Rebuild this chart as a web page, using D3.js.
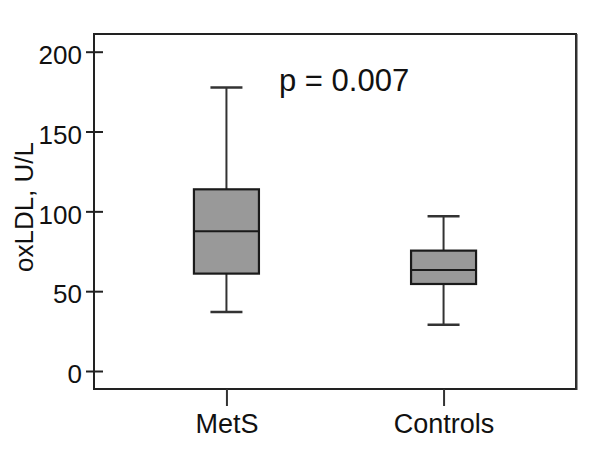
<!DOCTYPE html>
<html><head><meta charset="utf-8">
<script src="https://cdn.jsdelivr.net/npm/d3@7"></script>
<style>body{margin:0;background:#fff}svg{display:block}text{font-family:"Liberation Sans",Arial,sans-serif;fill:#111}</style>
</head><body><svg id="c" width="600" height="459"></svg>
<script>
const categories = ["MetS", "Controls"];
const whiskerLow = [37, 29];
const q1 = [61, 54.5];
const median = [87.5, 63.3];
const q3 = [113.8, 75.4];
const whiskerHigh = [177.5, 97];
const yTicks = [0, 50, 100, 150, 200];
const yLabel = "oxLDL, U/L";
const annotation = "p = 0.007";

const svg = d3.select("#c");
const L = 94, R = 576, T = 34, B = 389;
const y = d3.scaleLinear().domain([0, 200]).range([371, 51.7]);
const x = d3.scalePoint().domain(categories).range([L, R]).padding(0.61);
const boxW = 65, capW = 32;

// frame
svg.append("rect").attr("x", L).attr("y", T).attr("width", R - L).attr("height", B - T)
  .attr("fill", "none").attr("stroke", "#222").attr("stroke-width", 2);
svg.append("line").attr("x1", R + 0.5).attr("x2", R + 0.5).attr("y1", T).attr("y2", B + 1)
  .attr("stroke", "#333").attr("stroke-width", 2);

// y axis
const yAxis = svg.append("g").attr("transform", `translate(${L},0)`)
  .call(d3.axisLeft(y).tickValues(yTicks).tickSize(8).tickPadding(4));
yAxis.select(".domain").remove();
yAxis.selectAll(".tick line").attr("x1", 9).attr("x2", -8).attr("stroke", "#222").attr("stroke-width", 2);
yAxis.selectAll(".tick text").attr("font-size", 26).attr("dy", "0.45em").attr("fill", "#111")
  .style("font-family", "'Liberation Sans',Arial,sans-serif");

// x axis
const xAxis = svg.append("g").attr("transform", `translate(0,${B})`)
  .call(d3.axisBottom(x).tickSize(17).tickPadding(0));
xAxis.select(".domain").remove();
xAxis.selectAll(".tick line").attr("stroke", "#333").attr("stroke-width", 2);
xAxis.selectAll(".tick text").attr("font-size", 27).attr("dy", null).attr("y", 43.7).attr("fill", "#111")
  .style("font-family", "'Liberation Sans',Arial,sans-serif");

// y label
svg.append("text").attr("transform", "translate(33,207) rotate(-90)")
  .attr("text-anchor", "middle").attr("font-size", 26).text(yLabel);

// boxes
const data = categories.map((c, i) => ({c, lo: whiskerLow[i], q1: q1[i], med: median[i], q3: q3[i], hi: whiskerHigh[i]}));
const g = svg.selectAll("g.box").data(data).join("g").attr("class", "box");
g.append("line").attr("x1", d => x(d.c)).attr("x2", d => x(d.c)).attr("y1", d => y(d.hi)).attr("y2", d => y(d.q3))
  .attr("stroke", "#333").attr("stroke-width", 2);
g.append("line").attr("x1", d => x(d.c)).attr("x2", d => x(d.c)).attr("y1", d => y(d.q1)).attr("y2", d => y(d.lo))
  .attr("stroke", "#333").attr("stroke-width", 2);
g.append("line").attr("x1", d => x(d.c) - capW / 2).attr("x2", d => x(d.c) + capW / 2).attr("y1", d => y(d.hi)).attr("y2", d => y(d.hi))
  .attr("stroke", "#333").attr("stroke-width", 2.5);
g.append("line").attr("x1", d => x(d.c) - capW / 2).attr("x2", d => x(d.c) + capW / 2).attr("y1", d => y(d.lo)).attr("y2", d => y(d.lo))
  .attr("stroke", "#333").attr("stroke-width", 2.5);
g.append("rect").attr("x", d => x(d.c) - boxW / 2).attr("width", boxW)
  .attr("y", d => y(d.q3)).attr("height", d => y(d.q1) - y(d.q3))
  .attr("fill", "#999").attr("stroke", "#1a1a1a").attr("stroke-width", 2.2);
g.append("line").attr("x1", d => x(d.c) - boxW / 2).attr("x2", d => x(d.c) + boxW / 2).attr("y1", d => y(d.med)).attr("y2", d => y(d.med))
  .attr("stroke", "#1a1a1a").attr("stroke-width", 2);

// annotation
svg.append("text").attr("x", 279).attr("y", 91).attr("font-size", 31).text(annotation);
</script></body></html>
